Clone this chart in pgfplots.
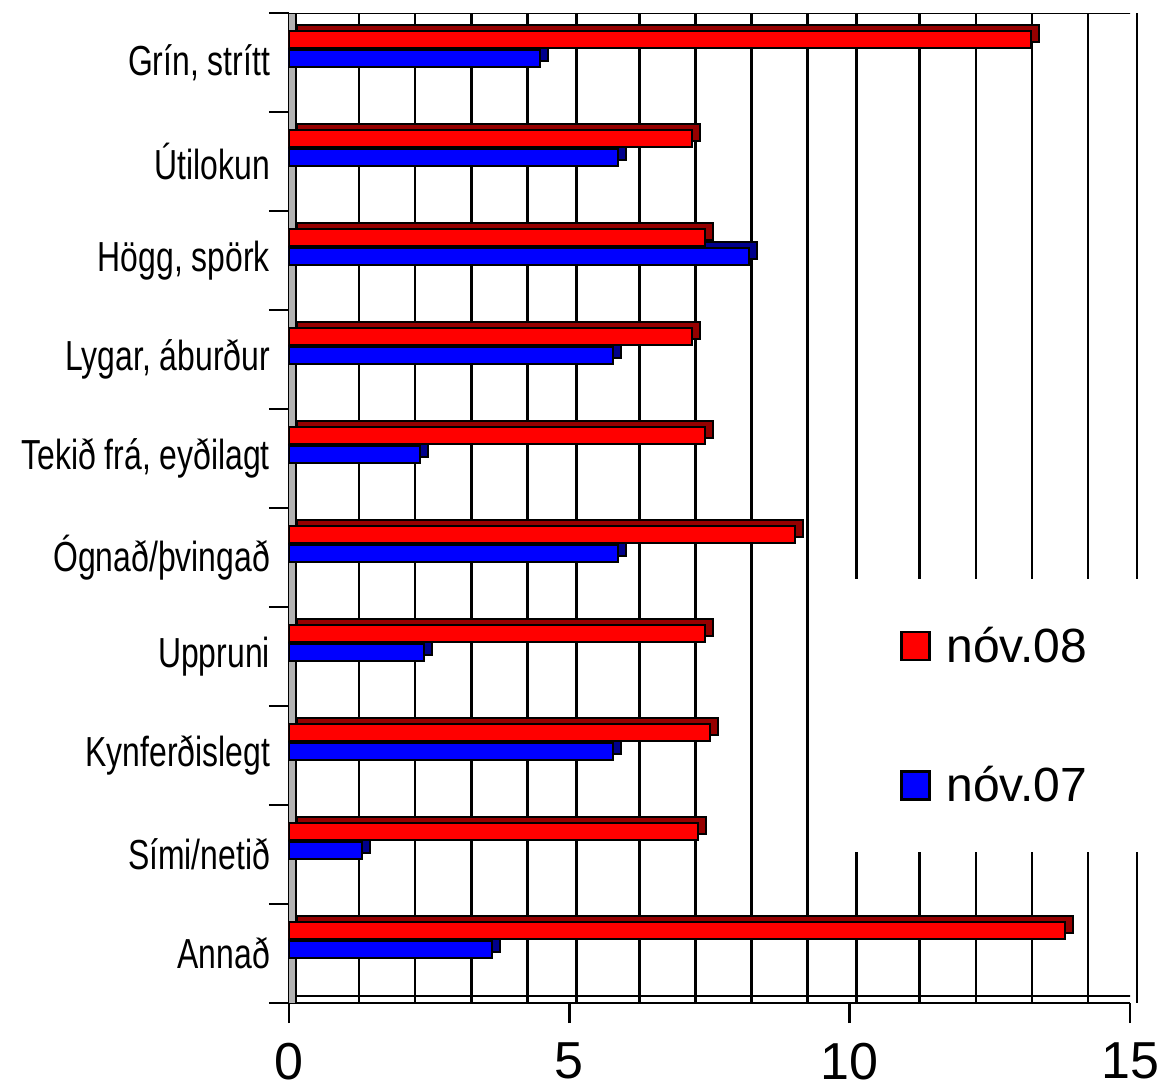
\documentclass[border=0pt]{standalone}
\usepackage{pgfplots}
\pgfplotsset{compat=1.18}
\usepackage{pgfplotstable}
\usepackage{fontspec}
\setmainfont{Liberation Sans}
\newfontfamily\narrowfont[FakeStretch=0.76]{Liberation Sans}

\definecolor{frontred}{RGB}{255,0,0}
\definecolor{sidered}{RGB}{150,0,0}
\definecolor{frontblue}{RGB}{0,0,255}
\definecolor{sideblue}{RGB}{0,0,140}

% categories top to bottom: y = 0..9 (y dir reversed)
\pgfplotstableread{
y red blue
0 13.23 4.48
1 7.19 5.87
2 7.42 8.20
3 7.19 5.78
4 7.42 2.34
5 9.02 5.87
6 7.42 2.41
7 7.51 5.78
8 7.29 1.30
9 13.84 3.62
}\data

\begin{document}
\begin{tikzpicture}
\useasboundingbox (0,0) rectangle (581pt,544pt);
\begin{axis}[
  at={(144.5pt,42.5pt)}, anchor=south west,
  scale only axis,
  width=420.5pt, height=495pt,
  xmin=0, xmax=15, ymin=-0.5, ymax=9.5,
  y dir=reverse,
  xbar, bar width=8.5pt,
  axis x line=bottom, axis y line=left,
  axis line style={line width=1.3pt, -},
  xtick={0,5,10,15},
  minor x tick num=4,
  xmajorgrids, xminorgrids,
  grid style={black, line width=1.3pt, xshift=3.5pt},
  minor grid style={black, line width=1.3pt, xshift=3.5pt},
  ytick={0,...,9},
  yticklabels={{Grín, strítt},{Útilokun},{Högg, spörk},{Lygar, áburður},{Tekið frá, eyðilagt},{Ógnað/þvingað},{Uppruni},{Kynferðislegt},{Sími/netið},{Annað}},
  minor ytick={-0.5,0.5,...,9.5},
  tick align=outside,
  major tick length=10pt,
  minor tick length=10pt,
  tick style={black, line width=1.3pt},
  every major y tick/.append style={draw=none},
  every minor x tick/.append style={draw=none},
  y tick label style={font=\narrowfont\fontsize{21}{24}\selectfont, xshift=4pt},
  x tick label style={font=\fontsize{26}{30}\selectfont, yshift=-6.5pt},
  /pgf/number format/assume math mode=true,
  legend style={
    at={(0.661,0.429)}, anchor=north west,
    draw=none, fill=white,
    font=\fontsize{24}{28}\selectfont,
    row sep=46.5pt, inner xsep=27.5pt, inner ysep=22pt,
  },
  legend cell align=left,
  legend image code/.code={
    \draw[#1, draw=black, line width=1.3pt] (0pt,-7pt) rectangle (14pt,7pt);
    \path (20pt,0pt);
  },
]
% left wall and floor / top edges of the 3D box
\fill[gray!60] (rel axis cs:0,0) rectangle ([xshift=3.5pt]rel axis cs:0,1);
\draw[black, line width=1pt] ([xshift=3.5pt]rel axis cs:0,0) -- ([xshift=3.5pt]rel axis cs:0,1);
\draw[black, line width=1.3pt] ([xshift=3.5pt,yshift=3.5pt]rel axis cs:0,0) -- ([xshift=3.5pt,yshift=3.5pt]rel axis cs:1,0);
\draw[black, line width=1.3pt] (rel axis cs:0,1) -- ([xshift=3.5pt]rel axis cs:1,1);
% 3D depth of bars
\addplot[forget plot, fill=sidered, draw=black, line width=1pt, bar shift=11.75pt, xshift=4pt, yshift=3pt] table[x=red, y=y] {\data};
\addplot[forget plot, fill=sideblue, draw=black, line width=1pt, bar shift=2.25pt, xshift=4pt, yshift=3pt] table[x=blue, y=y] {\data};
% front faces
\addplot[fill=frontred, draw=black, line width=1pt, bar shift=11.75pt] table[x=red, y=y] {\data};
\addlegendentry{nóv.08}
\addplot[fill=frontblue, draw=black, line width=1pt, bar shift=2.25pt] table[x=blue, y=y] {\data};
\addlegendentry{nóv.07}
\end{axis}
\end{tikzpicture}
\end{document}
